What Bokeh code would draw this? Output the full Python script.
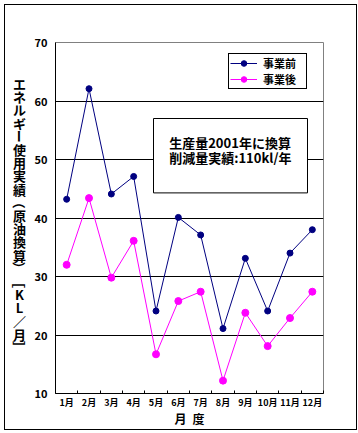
from bokeh.plotting import figure
from bokeh.layouts import row
from bokeh.models import (FixedTicker, Legend, LegendItem, Label, BoxAnnotation, Range1d)
from bokeh.core.properties import value
from bokeh.embed import file_html
from bokeh.resources import INLINE

# ---------------- data ----------------
months = ["1月", "2月", "3月", "4月", "5月", "6月",
          "7月", "8月", "9月", "10月", "11月", "12月"]
before = [43.2, 62.1, 44.1, 47.1, 24.1, 40.1, 37.1, 21.1, 33.1, 24.1, 34.0, 38.0]
after = [32.0, 43.4, 29.8, 36.1, 16.7, 25.8, 27.4, 12.2, 23.8, 18.1, 22.9, 27.4]
series_names = ["事業前", "事業後"]
y_ticks = [10, 20, 30, 40, 50, 60, 70]
y_title = "エネルギー使用実績（原油換算）［KL／月］"
x_title = "月\u2002度"
note_lines = ["生産量2001年に換算", "削減量実績:110kl/年"]

FONT = "Noto Sans CJK JP"
NAVY = "#000080"
MAGENTA = "#FF00FF"

FW, FH = 268, 351
BL, BR, BT, BB = 21, 33, 37, 35
TW = 26                      # width of the strip holding the vertical title

# ---------------- main chart ----------------
p = figure(frame_width=FW, frame_height=FH, output_backend="svg", toolbar_location=None,
           x_range=Range1d(0, len(months)), y_range=Range1d(y_ticks[0], y_ticks[-1]),
           min_border_left=BL, min_border_right=BR, min_border_top=BT, min_border_bottom=BB)
p.background_fill_color = "white"
p.border_fill_color = "white"
p.outline_line_color = "#808080"
p.outline_line_width = 1

xs = [i + 0.5 for i in range(len(months))]

# x axis
p.xaxis.ticker = FixedTicker(ticks=xs, minor_ticks=list(range(len(months) + 1)))
p.xaxis.major_label_overrides = {x: m for x, m in zip(xs, months)}
p.xaxis.major_tick_in = 0
p.xaxis.major_tick_out = 0
p.xaxis.minor_tick_in = 3
p.xaxis.minor_tick_out = 0
p.xaxis.minor_tick_line_color = "black"
p.xaxis.axis_line_color = "black"
p.xaxis.major_label_text_font = FONT
p.xaxis.major_label_text_font_style = "bold"
p.xaxis.major_label_text_font_size = "9px"
p.xaxis.major_label_text_color = "black"
p.xaxis.major_label_standoff = 2
p.xaxis.axis_label = x_title
p.xaxis.axis_label_text_font = FONT
p.xaxis.axis_label_text_font_style = "bold"
p.xaxis.axis_label_text_font_size = "12px"
p.xaxis.axis_label_text_color = "black"
p.xaxis.axis_label_standoff = -2

# y axis
p.yaxis.ticker = FixedTicker(ticks=y_ticks)
p.yaxis.major_tick_in = 0
p.yaxis.major_tick_out = 0
p.yaxis.minor_tick_line_color = None
p.yaxis.axis_line_color = "black"
p.yaxis.major_label_text_font = FONT
p.yaxis.major_label_text_font_style = "bold"
p.yaxis.major_label_text_font_size = "11px"
p.yaxis.major_label_text_color = "black"
p.yaxis.major_label_standoff = 8

p.xgrid.visible = False
p.ygrid.ticker = FixedTicker(ticks=y_ticks[1:-1])
p.ygrid.grid_line_color = "black"
p.ygrid.grid_line_width = 1

# series
l1 = p.line(xs, before, line_color=NAVY, line_width=1)
s1 = p.scatter(xs, before, size=6, fill_color=NAVY, line_color=NAVY)
l2 = p.line(xs, after, line_color=MAGENTA, line_width=1)
s2 = p.scatter(xs, after, size=7, fill_color=MAGENTA, line_color=MAGENTA)

legend = Legend(items=[LegendItem(label=series_names[0], renderers=[l1, s1]),
                       LegendItem(label=series_names[1], renderers=[l2, s2])],
                location=(173, 304), orientation="vertical")
legend.border_line_color = "black"
legend.border_line_width = 1
legend.border_line_alpha = 1
legend.background_fill_color = "white"
legend.background_fill_alpha = 1
legend.label_text_font = FONT
legend.label_text_font_style = "bold"
legend.label_text_font_size = "11px"
legend.label_text_color = "black"
legend.label_height = 14
legend.label_width = 42
legend.glyph_height = 14
legend.glyph_width = 27
legend.spacing = 0
legend.padding = 1
legend.margin = 0
legend.label_standoff = 6
p.add_layout(legend)

# note box
box = BoxAnnotation(left=98, right=252, top=275, bottom=200.6,
                    left_units="screen", right_units="screen",
                    top_units="screen", bottom_units="screen",
                    fill_color="white", fill_alpha=1,
                    line_color="black", line_alpha=1, line_width=1,
                    level="annotation")
p.add_layout(box)
for i, t in enumerate(note_lines):
    p.add_layout(Label(x=113.7, y=250.6 - i * 14.6, x_units="screen", y_units="screen",
                       text=t, text_font=FONT, text_font_style="bold",
                       text_font_size="13px", text_color="black",
                       text_align="left", text_baseline="middle"))

# ---------------- vertical y-axis title strip ----------------
# its frame has the same height and vertical placement as the chart's frame
t = figure(frame_width=TW, frame_height=FH, output_backend="svg", toolbar_location=None,
           x_range=Range1d(0, TW), y_range=Range1d(0, FH),
           x_axis_location=None, y_axis_location=None,
           min_border_left=0, min_border_right=0, min_border_top=BT, min_border_bottom=BB)
t.grid.visible = False
t.outline_line_color = None
t.background_fill_color = "white"
t.border_fill_color = "white"
rotated = set("ー（）［］")
chars = list(y_title)
t.text(x=[14] * len(chars),
       y=[FH - 41 - i * 13.2 for i in range(len(chars))],
       text=chars,
       angle=[-1.5708 if c in rotated else 0.0 for c in chars],
       text_font=value(FONT), text_font_style="bold", text_font_size="13px",
       text_color="black", text_align="center", text_baseline="middle")

layout = row(t, p, spacing=0,
             styles={"border": "1px solid black", "margin-left": "4px", "margin-top": "4px"})

open("out.html", "w").write(file_html(layout, INLINE))
